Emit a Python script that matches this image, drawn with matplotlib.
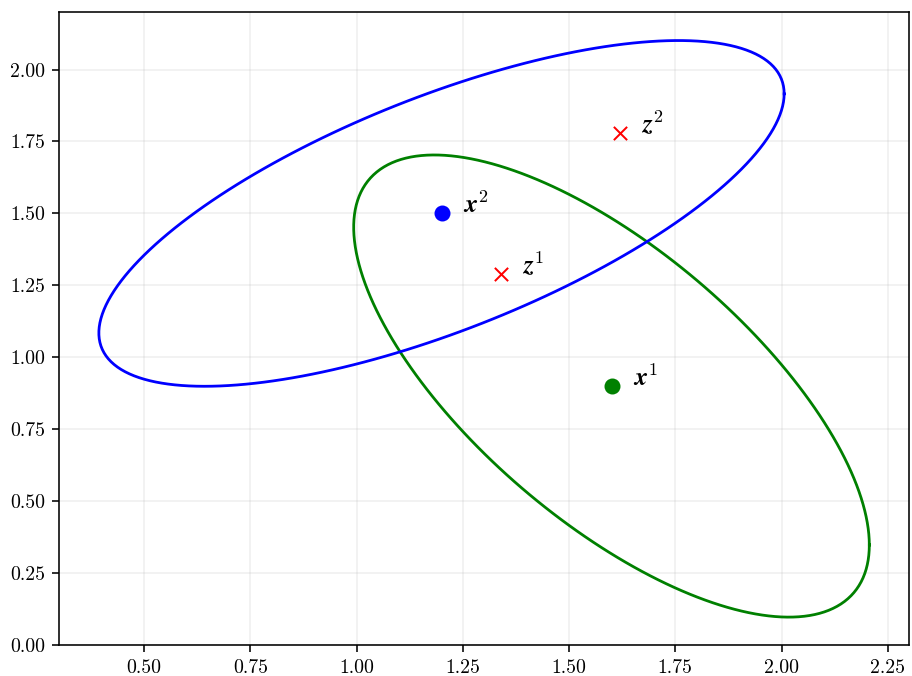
"""
Two covariance ellipses around x^1, x^2 with the z points.
Output: out.png
"""
import matplotlib
matplotlib.use('Agg')
import matplotlib.pyplot as plt
import numpy as np

plt.rcParams['font.family'] = 'serif'
plt.rcParams['font.serif'] = ['cmr10']
plt.rcParams['mathtext.fontset'] = 'cm'
plt.rcParams['axes.formatter.use_mathtext'] = True

# ─── Data ───
x1 = np.array([1.60, 0.90])
x2 = np.array([1.20, 1.50])
z1 = np.array([1.34, 1.29])
z2 = np.array([1.62, 1.78])

cov1 = np.array([[0.368, -0.335], [-0.335, 0.645]])
cov2 = np.array([[0.650, 0.335], [0.335, 0.361]])


def ellipse(center, cov, n=200):
    t = np.linspace(0, 2 * np.pi, n)
    L = np.linalg.cholesky(cov)
    pts = center[:, None] + L @ np.vstack([np.cos(t), np.sin(t)])
    return pts[0], pts[1]


# ─── Figure ───
fig = plt.figure(figsize=(912 / 142.5, 676 / 142.5), dpi=142.5)
ax = fig.add_axes([59 / 912, 31 / 676, 850 / 912, 633 / 676])

ex, ey = ellipse(x1, cov1)
ax.plot(ex, ey, color='green', lw=1.4)
ex, ey = ellipse(x2, cov2)
ax.plot(ex, ey, color='blue', lw=1.4)

ax.scatter(*x1, color='green', s=50, zorder=3)
ax.scatter(*x2, color='blue', s=50, zorder=3)
ax.scatter(*z1, color='red', marker='x', s=45, linewidths=1.0, zorder=3)
ax.scatter(*z2, color='red', marker='x', s=45, linewidths=1.0, zorder=3)

off = 0.05
ax.text(x1[0] + off, x1[1], r'$\boldsymbol{x}^1$', fontsize=13)
ax.text(x2[0] + off, x2[1], r'$\boldsymbol{x}^2$', fontsize=13)
ax.text(z1[0] + off, z1[1], r'$\boldsymbol{z}^1$', fontsize=13)
ax.text(z2[0] + off, z2[1], r'$\boldsymbol{z}^2$', fontsize=13)

ax.set_xlim(0.3, 2.3)
ax.set_ylim(0, 2.2)
ax.set_xticks(np.arange(0.5, 2.26, 0.25))
ax.set_yticks(np.arange(0, 2.01, 0.25))
ax.xaxis.set_major_formatter(matplotlib.ticker.FormatStrFormatter('%.2f'))
ax.yaxis.set_major_formatter(matplotlib.ticker.FormatStrFormatter('%.2f'))
ax.grid(True, color='#b0b0b0', alpha=0.2, lw=0.8)

plt.savefig('out.png', dpi=142.5)
print("Saved out.png")
